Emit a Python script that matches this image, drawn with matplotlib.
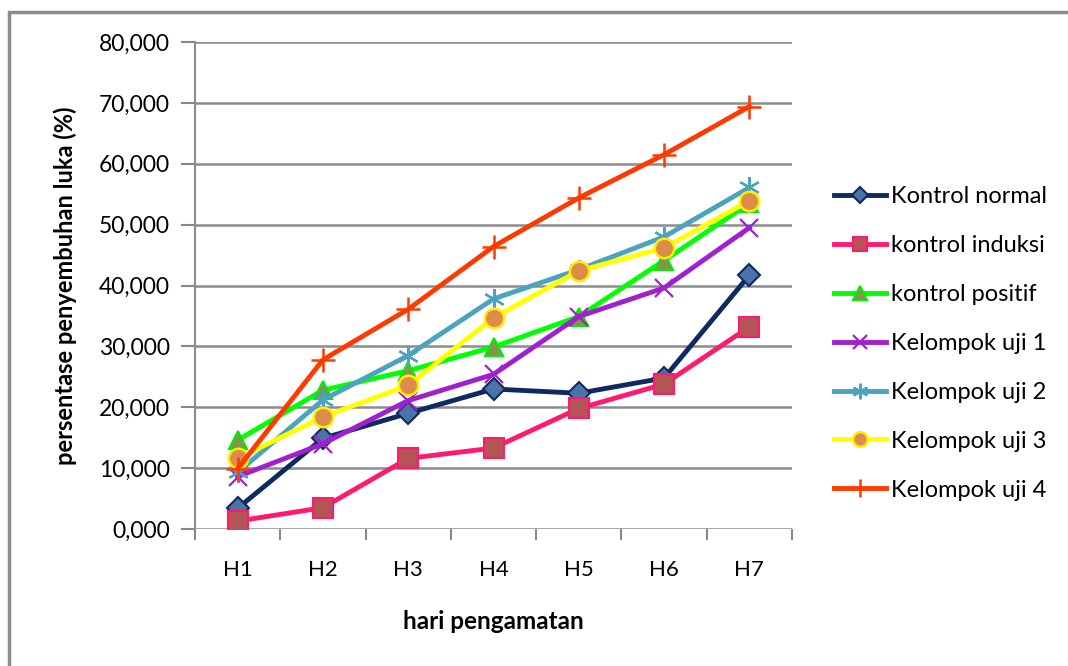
import numpy as np
import matplotlib.pyplot as plt
from matplotlib.patches import Rectangle
from matplotlib.ticker import FuncFormatter

plt.rcParams['font.family'] = ['Lato', 'DejaVu Sans']

hari = ["H1", "H2", "H3", "H4", "H5", "H6", "H7"]

kontrol_normal = [3.4, 14.9, 19.0, 23.0, 22.3, 24.8, 41.7]
kontrol_induksi = [1.3, 3.5, 11.6, 13.3, 19.8, 23.8, 33.2]
kontrol_positif = [14.6, 22.8, 26.0, 29.9, 34.9, 44.1, 53.5]
uji_1 = [8.6, 14.0, 21.1, 25.4, 34.9, 39.6, 49.5]
uji_2 = [9.3, 21.2, 28.5, 37.8, 42.6, 48.0, 56.1]
uji_3 = [11.6, 18.4, 23.6, 34.7, 42.4, 46.2, 53.9]
uji_4 = [9.9, 27.8, 36.1, 46.4, 54.4, 61.5, 69.4]

series = [
    ("Kontrol normal", kontrol_normal, dict(color="#0f2a60", marker="D", ms=11, mfc="#4a74a8", mec="#0f2a60", mew=1.5)),
    ("kontrol induksi", kontrol_induksi, dict(color="#ff1a6e", marker="s", ms=14, mfc="#b35555", mec="#ff1a6e", mew=1.5)),
    ("kontrol positif", kontrol_positif, dict(color="#00ff00", marker="^", ms=13, mfc="#86944f", mec="#00ee00", mew=1.5)),
    ("Kelompok uji 1", uji_1, dict(color="#a020d0", marker="x", ms=13, mew=1.6)),
    ("Kelompok uji 2", uji_2, dict(color="#4aa3bf", marker=(6, 2, 0), ms=15, mew=1.6)),
    ("Kelompok uji 3", uji_3, dict(color="#ffff00", marker="o", ms=14, mfc="#dd8c4c", mec="#ffee00", mew=1.8)),
    ("Kelompok uji 4", uji_4, dict(color="#ff3a00", marker="+", ms=17, mew=1.8)),
]

fig = plt.figure(figsize=(10.68, 6.66), dpi=100)
ax = fig.add_axes([195 / 1068, 1 - 529 / 666, 597 / 1068, 487 / 666])

x = np.arange(len(hari))
for name, vals, style in series:
    ax.plot(x, vals, lw=3.5, label=name, solid_joinstyle="round", **style)

ax.set_xlim(-0.5, len(hari) - 0.5)
ax.set_ylim(0, 80)
ax.set_yticks(np.arange(0, 81, 10))
ax.yaxis.set_major_formatter(FuncFormatter(lambda v, p: f"{v:.0f},000" if v > 0 else "0,000"))
ax.set_xticks(x)
ax.set_xticklabels(hari)
ax.set_xticks(np.arange(-0.5, len(hari)), minor=True)
ax.tick_params(axis="x", which="major", length=0, pad=22, labelsize=16)
ax.tick_params(axis="x", which="minor", length=8, width=1.5, color="#888888")
ax.tick_params(axis="y", length=10, width=1.5, color="#888888", pad=8, labelsize=16.5)

ax.grid(axis="y", color="#8c8c8c", lw=1.8)
ax.set_axisbelow(True)
for side in ("top", "right", "bottom"):
    ax.spines[side].set_visible(False)
ax.spines["left"].set_color("#8c8c8c")
ax.spines["left"].set_linewidth(1.5)

ax.set_xlabel("hari pengamatan", fontsize=17.5, fontweight="bold", labelpad=22)
ax.set_ylabel("persentase penyembuhan luka (%)", fontsize=17, fontweight="bold", labelpad=16)

leg = ax.legend(loc="upper left", bbox_to_anchor=(1.055, 0.723), frameon=False,
                fontsize=17, handlelength=2.2, handletextpad=0.2, labelspacing=1.18,
                borderaxespad=0, markerscale=0.75)

fig.patches.append(Rectangle((9 / 1068, -0.1), 1.2, 654 / 666 + 0.1,
                             transform=fig.transFigure, fill=False,
                             edgecolor="#8c8c8c", lw=2.5))

fig.savefig("out.png", dpi=100, facecolor="white")
